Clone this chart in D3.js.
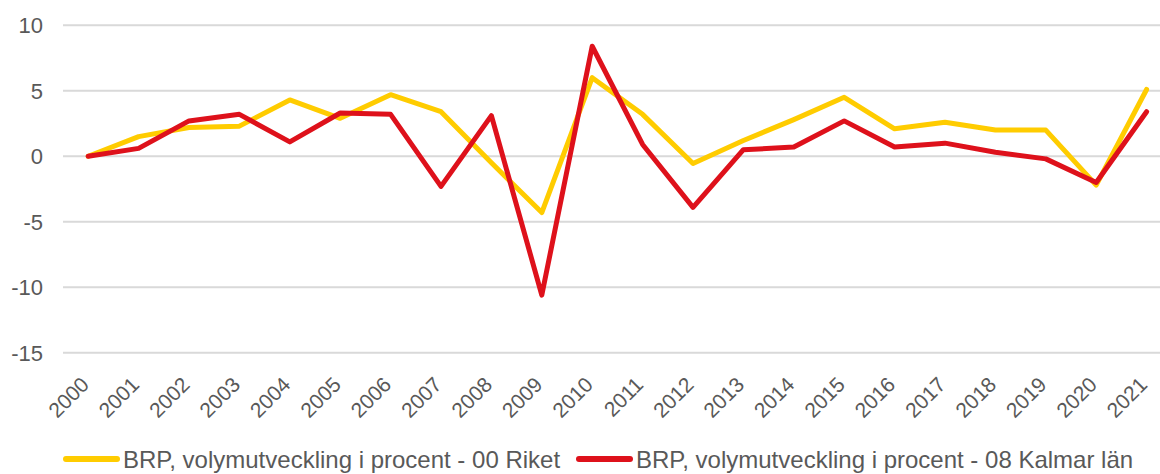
<!DOCTYPE html>
<meta charset="utf-8">
<style>
body { margin: 0; background: #fff; }
svg text { font-family: "Liberation Sans", Arial, sans-serif; fill: #595959; }
</style>
<body>
<script src="https://cdn.jsdelivr.net/npm/d3@7"></script>
<script>

// data
var years = ["2000","2001","2002","2003","2004","2005","2006","2007","2008","2009","2010",
             "2011","2012","2013","2014","2015","2016","2017","2018","2019","2020","2021"];
var riket  = [0, 1.5, 2.2, 2.3, 4.3, 2.9, 4.7, 3.4, -0.5, -4.3, 6.0,
              3.2, -0.55, 1.2, 2.8, 4.5, 2.1, 2.6, 2.0, 2.0, -2.2, 5.1];
var kalmar = [0, 0.6, 2.7, 3.2, 1.1, 3.3, 3.2, -2.3, 3.1, -10.6, 8.4,
              0.9, -3.9, 0.5, 0.7, 2.7, 0.7, 1.0, 0.3, -0.2, -2.0, 3.4];
var yTicks = [-15, -10, -5, 0, 5, 10];
var seriesNames = ["BRP, volymutveckling i procent - 00 Riket",
                   "BRP, volymutveckling i procent - 08 Kalmar län"];
var seriesColors = ["#FFCC00", "#DE111B"];

var width = 1160, height = 474;

var svg = d3.select("body").append("svg")
    .attr("width", width)
    .attr("height", height);

// scales
var x = d3.scaleBand().domain(years).range([63, 63 + 22 * 50.4]);
var y = d3.scaleLinear().domain([-15, 10]).range([352.7, 25.3]);
function cx(d, i) { return x(years[i]) + x.bandwidth() / 2; }

// gridlines
svg.append("g").selectAll("line")
    .data(yTicks)
  .enter().append("line")
    .attr("x1", 63)
    .attr("x2", width)
    .attr("y1", function(d) { return y(d); })
    .attr("y2", function(d) { return y(d); })
    .attr("stroke", "#d9d9d9")
    .attr("stroke-width", 2);

// y labels
svg.append("g").selectAll("text")
    .data(yTicks)
  .enter().append("text")
    .attr("x", 43)
    .attr("y", function(d) { return y(d); })
    .attr("dy", "0.36em")
    .attr("text-anchor", "end")
    .style("font-size", "22px")
    .text(function(d) { return d; });

// x labels
svg.append("g").selectAll("text")
    .data(years)
  .enter().append("text")
    .attr("text-anchor", "end")
    .attr("transform", function(d) {
        return "translate(" + (x(d) + x.bandwidth() / 2 + 2) + ",386) rotate(-45)";
    })
    .style("font-size", "21px")
    .text(function(d) { return d; });

// lines
var line = d3.line()
    .x(cx)
    .y(function(d) { return y(d); });

[riket, kalmar].forEach(function(s, i) {
  svg.append("path")
      .datum(s)
      .attr("d", line)
      .attr("fill", "none")
      .attr("stroke", seriesColors[i])
      .attr("stroke-width", 5)
      .attr("stroke-linejoin", "round")
      .attr("stroke-linecap", "round");
});

// legend (kept just inside the bottom edge)
var legendX = [63, 576];
seriesNames.forEach(function(name, i) {
  var g = svg.append("g").attr("transform", "translate(" + legendX[i] + ",459)");
  g.append("line")
      .attr("x1", 3).attr("x2", 54)
      .attr("stroke", seriesColors[i])
      .attr("stroke-width", 6)
      .attr("stroke-linecap", "round");
  g.append("text")
      .attr("x", 60)
      .attr("y", 9)
      .style("font-size", "24px")
      .text(name);
});

</script>
</body>
